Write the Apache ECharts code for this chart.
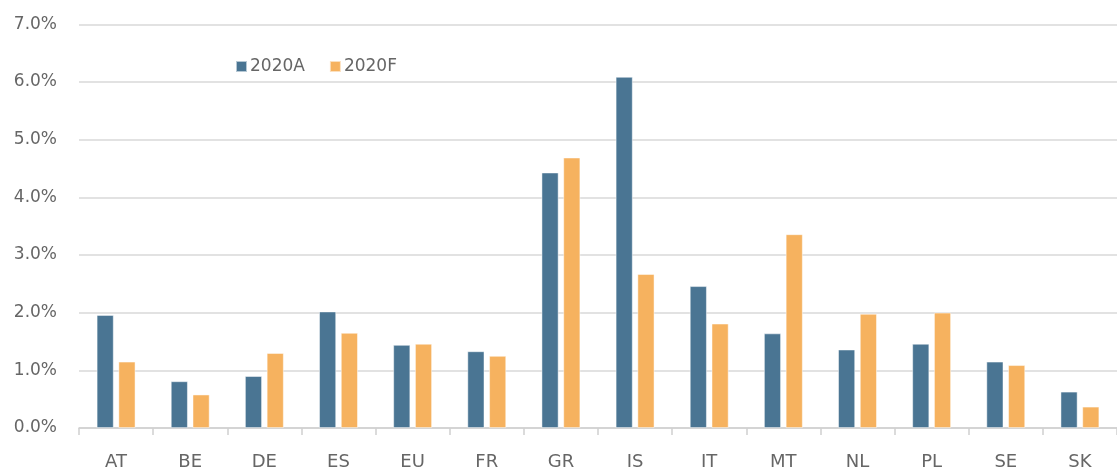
<!DOCTYPE html>
<html>
<head>
<meta charset="utf-8">
<script src="https://cdn.jsdelivr.net/npm/echarts@6/dist/echarts.min.js"></script>
<style>html,body{margin:0;padding:0;background:#fff}#c{width:1117px;height:471px}</style>
</head>
<body>
<div id="c"></div>
<script>
const categories = ['AT','BE','DE','ES','EU','FR','GR','IS','IT','MT','NL','PL','SE','SK'];
const actual2020 = [1.96,0.81,0.90,2.02,1.44,1.33,4.43,6.09,2.46,1.64,1.36,1.46,1.15,0.63];
const forecast2020 = [1.15,0.58,1.30,1.65,1.46,1.25,4.69,2.67,1.81,3.36,1.98,2.00,1.09,0.37];
const seriesNames = ['2020A','2020F'];
const yTicks = {min:0, max:7, interval:1};

const FONT = 'DejaVu Sans';
const chart = echarts.init(document.getElementById('c'), null, {renderer:'canvas'});
chart.setOption({
  animation:false,
  color:['#4A7593','#F6B25F'],
  grid:{left:79, right:-4, top:24.4, bottom:38.3, containLabel:false},
  legend:{
    left:230, top:53, itemWidth:11, itemHeight:11, itemGap:24,
    icon:'rect',
    textStyle:{fontFamily:FONT, fontSize:17, color:'#666666', padding:[0,0,0,-2]},
    data:seriesNames
  },
  xAxis:{
    type:'category', data:categories,
    axisLine:{lineStyle:{color:'#cfcfcf', width:1.5}},
    axisTick:{show:true, length:7, interval:0, lineStyle:{color:'#cfcfcf', width:1.5}},
    axisLabel:{fontFamily:FONT, fontSize:18, color:'#666666', margin:25}
  },
  yAxis:{
    type:'value', min:yTicks.min, max:yTicks.max, interval:yTicks.interval,
    axisLine:{show:false}, axisTick:{show:false},
    splitLine:{lineStyle:{color:'#d9d9d9', width:1.5}},
    axisLabel:{fontFamily:FONT, fontSize:17, color:'#666666', margin:22,
      formatter:v=>v.toFixed(1)+'%'}
  },
  series:[
    {name:seriesNames[0], type:'bar', data:actual2020, barWidth:17, barGap:'28%',
     itemStyle:{borderColor:'rgba(255,255,255,0.6)', borderWidth:0.8}},
    {name:seriesNames[1], type:'bar', data:forecast2020, barWidth:17, barGap:'28%',
     itemStyle:{borderColor:'rgba(255,255,255,0.6)', borderWidth:0.8}}
  ]
});
</script>
</body>
</html>
